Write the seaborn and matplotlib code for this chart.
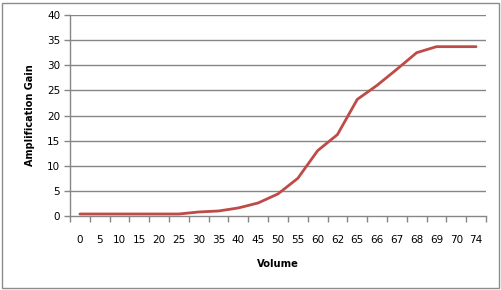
import matplotlib
matplotlib.use("Agg")
import matplotlib.pyplot as plt
import seaborn as sns
import numpy as np
import pandas as pd
from matplotlib.patches import Rectangle

volume_labels = ["0", "5", "10", "15", "20", "25", "30", "35", "40", "45", "50",
                 "55", "60", "62", "65", "66", "67", "68", "69", "70", "74"]
gain = [0.4, 0.4, 0.4, 0.4, 0.4, 0.4, 0.8, 1.0, 1.6, 2.6, 4.4,
        7.5, 13.0, 16.2, 23.2, 26.0, 29.2, 32.5, 33.7, 33.7, 33.7]
y_ticks = [0, 5, 10, 15, 20, 25, 30, 35, 40]

sns.set_style("white")
plt.rcParams['font.family'] = ['DejaVu Sans']

df = pd.DataFrame({"pos": np.arange(len(volume_labels)), "gain": gain})

fig = plt.figure(figsize=(5.02, 2.90), dpi=100)
ax = fig.add_axes([70/502, 1-216/290, (486-70)/502, (216-15)/290])

grid_c = "#868686"
for v in y_ticks[1:]:
    ax.axhline(v, color=grid_c, lw=1.0, zorder=0)

sns.lineplot(data=df, x="pos", y="gain", ax=ax, color="#BE4B48", linewidth=2.0,
             zorder=3)

ax.set_xlim(-0.5, len(volume_labels) - 0.5)
ax.set_ylim(0, 40)
ax.set_xticks(np.arange(len(volume_labels)))
ax.set_xticklabels(volume_labels, fontsize=7.5, color="black")
ax.set_xticks(np.arange(len(volume_labels) + 1) - 0.5, minor=True)
ax.tick_params(axis="x", which="major", length=0, pad=14)
ax.tick_params(axis="x", which="minor", length=4, color=grid_c, width=1, direction="out")
ax.set_yticks(y_ticks)
ax.set_yticklabels([str(v) for v in y_ticks], fontsize=7.5, color="black")
ax.tick_params(axis="y", length=4, color=grid_c, width=1, direction="out", pad=3, left=True)
ax.tick_params(axis="x", bottom=True, which="both")

for s in ["top", "right"]:
    ax.spines[s].set_visible(False)
for s in ["left", "bottom"]:
    ax.spines[s].set_color(grid_c)
    ax.spines[s].set_linewidth(1.0)

ax.set_xlabel("Volume", fontsize=7.2, fontweight="bold", labelpad=10, color="black")
ax.set_ylabel("Amplification Gain", fontsize=7.0, fontweight="bold", labelpad=9, color="black")

fig.patches.append(Rectangle((2/502, 2/290), 497/502, 285/290, transform=fig.transFigure,
                             fill=False, edgecolor="#8c8c8c", lw=1.0))

fig.savefig("out.png", dpi=100)
